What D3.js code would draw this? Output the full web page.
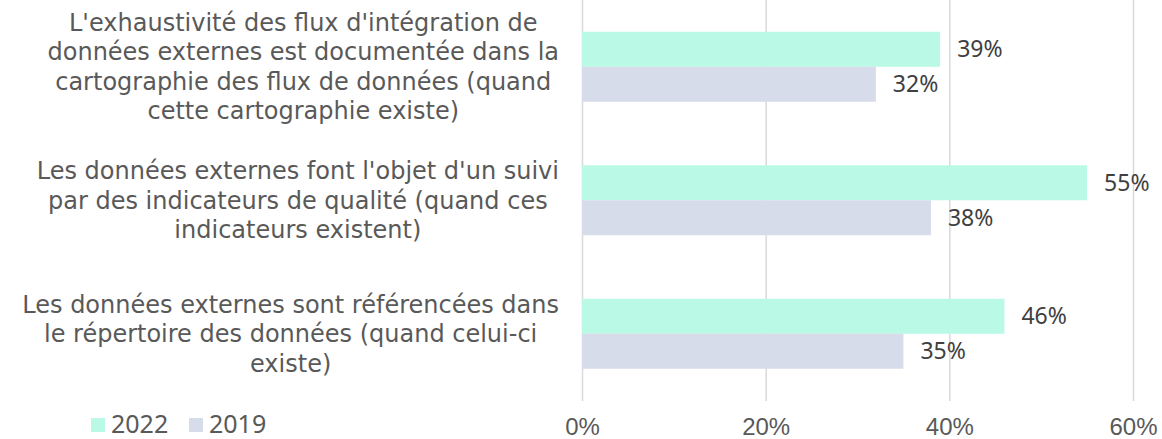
<!DOCTYPE html>
<html>
<head>
<meta charset="utf-8">
<script src="https://cdn.jsdelivr.net/npm/d3@7"></script>
<style>
  html, body { margin: 0; padding: 0; background: #fff; }
  svg { display: block; font-family: 'Noto Sans', sans-serif; }
</style>
</head>
<body>
<svg id="chart" width="1162" height="439"></svg>
<script>
// Categories, one wrapped label per row (top to bottom).
var categories = ['flux', 'qualite', 'repertoire'];
var categoryLines = [
  ["L'exhaustivité des flux d'intégration de",
   'données externes est documentée dans la',
   'cartographie des flux de données (quand',
   'cette cartographie existe)'],
  ["Les données externes font l'objet d'un suivi",
   'par des indicateurs de qualité (quand ces',
   'indicateurs existent)'],
  ['Les données externes sont référencées dans',
   'le répertoire des données (quand celui-ci',
   'existe)']
];
var seriesNames = ['2022', '2019'];
var values2022 = [39, 55, 46];
var values2019 = [32, 38, 35];
var xTicks = [0, 20, 40, 60];

var colors = {'2022': '#b9f9e5', '2019': '#d6dcea'};
var textColor = '#595959';

var svg = d3.select('#chart');

var x = d3.scaleLinear().domain([0, 60]).range([582, 1133]);

var y0 = d3.scaleBand().
    domain(categories).
    range([0, 400.5]).
    paddingInner(0.476).
    paddingOuter(0.238);

var y1 = d3.scaleBand().
    domain(seriesNames).
    range([0, y0.bandwidth()]);

// Gridlines and tick labels.
var xAxis = d3.axisBottom(x).
    tickValues(xTicks).
    tickSize(401).
    tickFormat(function(d) { return d + '%'; });

var axisG = svg.append('g').attr('class', 'x-axis').call(xAxis);
axisG.select('.domain').remove();
axisG.selectAll('.tick line').
    attr('stroke', '#d9d9d9').
    attr('stroke-width', 1.5);
axisG.selectAll('.tick text').
    attr('y', 435).
    attr('dy', null).
    attr('fill', textColor).
    style('font-size', '24px');

// Bars.
var rows = categories.map(function(c, i) {
  return {cat: c, bars: [
    {series: '2022', value: values2022[i]},
    {series: '2019', value: values2019[i]}
  ]};
});

var groups = svg.selectAll('g.row').
    data(rows).
    enter().append('g').
    attr('class', 'row').
    attr('transform', function(d) {
      return 'translate(0,' + y0(d.cat) + ')';
    });

groups.selectAll('rect').
    data(function(d) { return d.bars; }).
    enter().append('rect').
    attr('x', x(0)).
    attr('y', function(d) { return y1(d.series); }).
    attr('width', function(d) { return x(d.value) - x(0); }).
    attr('height', y1.bandwidth()).
    attr('fill', function(d) { return colors[d.series]; });

groups.selectAll('text.value').
    data(function(d) { return d.bars; }).
    enter().append('text').
    attr('class', 'value').
    attr('x', function(d) { return x(d.value) + 17; }).
    attr('y', function(d) { return y1(d.series) + y1.bandwidth() / 2; }).
    attr('dy', '0.35em').
    attr('fill', '#404040').
    style('font-size', '23px').
    text(function(d) { return d.value + '%'; });

// Category labels: block right aligned, lines centred in block.
var labelSize = 24;
var lineHeight = 29.5;
var labelRight = 559;

var labels = svg.selectAll('g.cat-label').
    data(categories).
    enter().append('g').
    attr('class', 'cat-label');

labels.each(function(c, i) {
  var g = d3.select(this);
  var lines = categoryLines[i];
  var cy = y0(c) + y0.bandwidth() / 2;
  var texts = g.selectAll('text').
      data(lines).
      enter().append('text').
      attr('fill', textColor).
      attr('text-anchor', 'middle').
      style('font-family', "'DejaVu Sans', sans-serif").
      style('font-size', labelSize + 'px').
      attr('y', function(d, j) {
        return cy + (j - (lines.length - 1) / 2) * lineHeight;
      }).
      attr('dy', '0.35em').
      text(function(d) { return d; });
  var maxW = d3.max(texts.nodes(), function(n) {
    return n.getComputedTextLength();
  });
  texts.attr('x', labelRight - maxW / 2);
});

// Legend.
var legend = svg.append('g').attr('class', 'legend');
var legendX = [91, 189];
seriesNames.forEach(function(s, i) {
  legend.append('rect').
      attr('x', legendX[i]).
      attr('y', 418).
      attr('width', 14).
      attr('height', 14).
      attr('fill', colors[s]);
  legend.append('text').
      attr('x', legendX[i] + 20).
      attr('y', 433).
      attr('fill', textColor).
      style('font-size', '25px').
      text(s);
});
</script>
</body>
</html>
